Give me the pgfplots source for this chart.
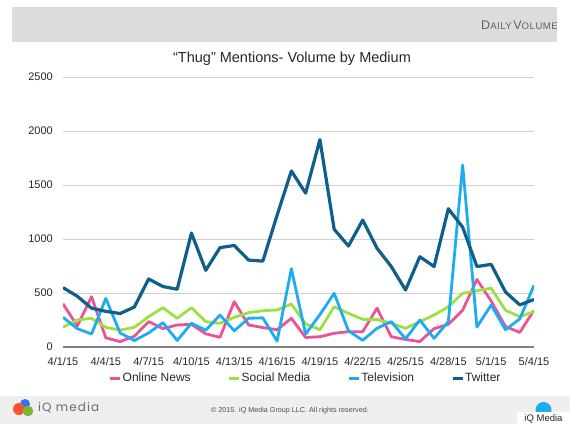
\documentclass[border=0pt]{standalone}
\usepackage{pgfplots}
\usepackage{pgfplotstable}
\pgfplotsset{compat=1.18}
\usepackage{fontspec}
\setmainfont{Liberation Sans}
\newfontfamily\logofont[LetterSpace=9]{Poppins}
\newfontfamily\headfont[LetterSpace=5]{Liberation Sans}
\definecolor{onews}{RGB}{236,82,151}
\definecolor{social}{RGB}{155,226,64}
\definecolor{tv}{RGB}{30,172,240}
\definecolor{tw}{RGB}{16,94,140}
\definecolor{headgray}{RGB}{220,220,220}
\definecolor{footgray}{RGB}{239,239,239}
\definecolor{gridgray}{RGB}{208,208,208}
\definecolor{axgray}{RGB}{130,130,130}
\definecolor{txt}{RGB}{40,40,40}

\pgfplotstableread{
d news social tv twitter
0 400 182 275 550
1 195 250 170 470
2 465 266 120 360
3 85 182 450 330
4 50 157 130 310
5 100 182 60 370
6 235 281 130 630
7 170 364 225 560
8 204 266 60 535
9 210 364 220 1055
10 122 235 155 710
11 90 219 296 920
12 420 275 150 940
13 204 318 266 805
14 180 336 270 795
15 160 343 55 1220
16 266 398 725 1630
17 88 215 120 1425
18 95 160 300 1920
19 127 373 497 1090
20 142 312 150 935
21 142 256 62 1175
22 360 256 173 915
23 95 219 235 745
24 70 173 75 528
25 50 235 250 836
26 170 296 80 745
27 210 373 235 1280
28 340 497 1685 1110
29 625 520 185 745
30 425 545 389 765
31 190 340 160 510
32 135 281 260 390
33 340 327 570 440
}\datatable

\begin{document}
\begin{tikzpicture}
\useasboundingbox (0pt,0pt) rectangle (570pt,424pt);
\fill[white] (0pt,0pt) rectangle (570pt,424pt);
% header band
\fill[headgray] (12pt,382pt) rectangle (557pt,417pt);
\node[anchor=base east, inner sep=0pt, text=black!62] at (558pt,394pt)
  {\headfont{\fontsize{12.5}{13}\selectfont D}{\fontsize{9.6}{10}\selectfont AILY\,}{\fontsize{12.5}{13}\selectfont V}{\fontsize{9.6}{10}\selectfont OLUME}};
% title
\node[inner sep=0pt, text=txt] at (292pt,365pt) {\fontsize{14.5}{17}\selectfont “Thug” Mentions- Volume by Medium};
% footer
\fill[footgray] (0pt,0pt) rectangle (570pt,28pt);
\fill[tv!60!blue!90] (25pt,20pt) circle (5pt);
\fill[red!70!orange!80] (19pt,15pt) circle (6pt);
\fill[social!80!black] (28pt,13pt) circle (5.3pt);
\node[anchor=west, inner sep=0pt, text=black!58] at (38pt,16pt) {\logofont\fontsize{12}{14}\selectfont iQ media};
\node[inner sep=0pt, text=black!70] at (290pt,13pt) {\fontsize{7.2}{9}\selectfont © 2015. iQ Media Group LLC. All rights reserved.};
\fill[tv] (543.5pt,14pt) circle (8pt);
\fill[white] (517pt,0pt) rectangle (570pt,12pt);
\node[inner sep=0pt, text=black!85] at (543.5pt,5.5pt) {\fontsize{9.5}{11}\selectfont iQ Media};

\begin{axis}[
  at={(63pt,77pt)}, anchor=south west,
  scale only axis, width=471pt, height=270pt,
  xmin=0, xmax=33, ymin=0, ymax=2500,
  axis lines*=left,
  y axis line style={draw=none},
  x axis line style={axgray, line width=1.6pt, -},
  tick style={draw=none},
  major tick length=0pt,
  ytick={0,500,...,2500},
  ymajorgrids=true, major grid style={gridgray, line width=1pt},
  xtick={0,3,...,33},
  xticklabels={4/1/15,4/4/15,4/7/15,4/10/15,4/13/15,4/16/15,4/19/15,4/22/15,4/25/15,4/28/15,5/1/15,5/4/15},
  /pgf/number format/assume math mode=true,
  /pgf/number format/1000 sep={},
  ticklabel style={font=\fontsize{11}{13}\selectfont, text=txt},
  yticklabel style={inner sep=0pt, xshift=-10pt},
  xticklabel style={inner sep=0pt, yshift=-10.5pt},
  legend columns=4,
  legend style={at={(0.514,-0.115)}, anchor=center, draw=none, fill=none,
    font=\fontsize{12}{14}\selectfont, text=txt,
    /tikz/every even column/.append style={column sep=36pt},
    nodes={inner sep=1pt}},
  legend image code/.code={\draw[#1, line width=3pt, line cap=butt] (0pt,0pt) -- (10pt,0pt);},
  every axis plot/.append style={line width=2.8pt, line join=round, mark=none},
]
\addplot[onews] table[x=d, y=news] {\datatable};
\addlegendentry{Online News}
\addplot[social] table[x=d, y=social] {\datatable};
\addlegendentry{Social Media}
\addplot[tv] table[x=d, y=tv] {\datatable};
\addlegendentry{Television}
\addplot[tw, line width=3.2pt] table[x=d, y=twitter] {\datatable};
\addlegendentry{Twitter}
\end{axis}
\end{tikzpicture}
\end{document}
